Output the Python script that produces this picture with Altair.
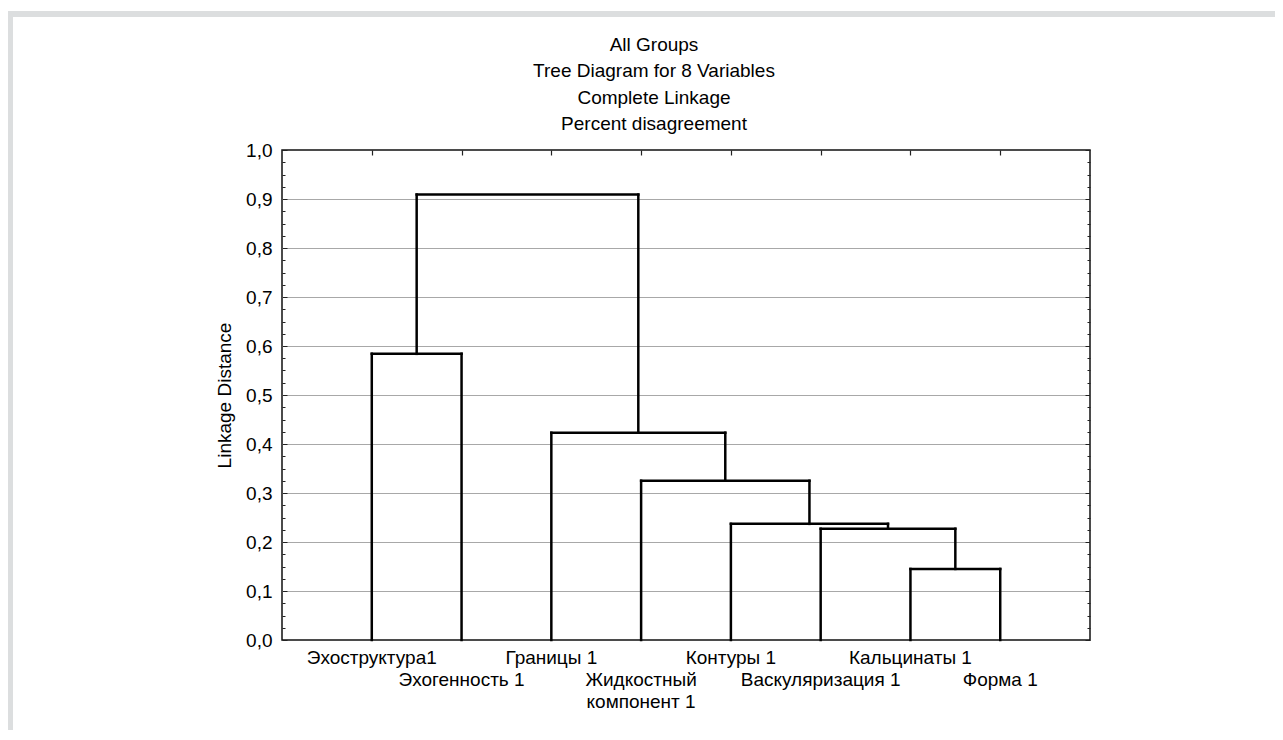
import altair as alt
import pandas as pd

FONT = "Liberation Sans"

# ---- data ----
leaf_labels = ["Эхоструктура1", "Эхогенность 1", "Границы 1", "Жидкостный\nкомпонент 1",
               "Контуры 1", "Васкуляризация 1", "Кальцинаты 1", "Форма 1"]
# merges: node ids 0..7 are leaves, 8.. are clusters in merge order
merge_a = [6, 5, 4, 3, 2, 0, 13]
merge_b = [7, 8, 9, 10, 11, 1, 12]
merge_h = [0.145, 0.227, 0.237, 0.325, 0.423, 0.584, 0.909]
y_ticks = [0.0, 0.1, 0.2, 0.3, 0.4, 0.5, 0.6, 0.7, 0.8, 0.9, 1.0]
title_lines = ["All Groups", "Tree Diagram for 8 Variables", "Complete Linkage", "Percent disagreement"]

# ---- dendrogram layout from merge structure ----
n = len(leaf_labels)
node_x = [i + 1 for i in range(n)]
node_h = [0.0] * n
segs = []
for a, b, h in zip(merge_a, merge_b, merge_h):
    xa, xb = node_x[a], node_x[b]
    segs.append(dict(x=xa, x2=xa, y=node_h[a], y2=h))
    segs.append(dict(x=xb, x2=xb, y=node_h[b], y2=h))
    segs.append(dict(x=xa, x2=xb, y=h, y2=h))
    node_x.append((xa + xb) / 2)
    node_h.append(h)
seg_df = pd.DataFrame(segs)

leaf_df = pd.DataFrame({"pos": list(range(1, n + 1)), "label": leaf_labels,
                        "row": [i % 2 for i in range(n)]})
row0 = leaf_df[leaf_df.row == 0]
row1 = leaf_df[leaf_df.row == 1]

minor_vals = [round(i * 0.025, 3) for i in range(41) if i % 4 != 0]
W, H = 808, 490

xs = alt.Scale(domain=[0, n + 1], nice=False, zero=False)
ys = alt.Scale(domain=[0, 1], nice=False, zero=False)

dend = alt.Chart(seg_df).mark_rule(color="#000", strokeWidth=2.5, strokeCap="square").encode(
    x=alt.X("x:Q", scale=xs, axis=None),
    x2="x2:Q",
    y=alt.Y("y:Q", scale=ys, axis=alt.Axis(
        orient="left", values=y_ticks, format=".1f",
        labelExpr="replace(datum.label, '.', ',')",
        ticks=False, domain=False, grid=True, gridColor="#a8a8a8", gridWidth=1,
        gridOpacity={"condition": {"test": "datum.value <= 0 || datum.value >= 1", "value": 0}, "value": 1},
        labelPadding=10, labelFontSize=19, labelFont=FONT, labelColor="#000",
        title="Linkage Distance", titleFontSize=19, titleFont=FONT, titleFontWeight="normal",
        titleColor="#000", titleX=-58, titleY=H / 2, titleAngle=270,
        titleAlign="center", titleBaseline="middle")),
    y2="y2:Q",
)


def tick_layer(orient, vals, size, x_axis=None):
    return alt.Chart(seg_df).mark_point(opacity=0).encode(
        x=alt.X("x:Q", scale=xs, axis=x_axis),
        y=alt.Y("y:Q", scale=ys, axis=alt.Axis(
            orient=orient, offset=-W, values=vals, labels=False, grid=False,
            domain=False, ticks=True, tickSize=size, tickColor="#222", tickWidth=1,
            title=None)),
    )


top_axis = alt.Axis(orient="bottom", offset=-H, values=list(range(1, n + 1)), labels=False,
                    grid=False, domain=False, ticks=True, tickSize=5, tickColor="#222",
                    tickWidth=1.2, title=None)

t1 = tick_layer("right", y_ticks, 5, x_axis=top_axis)
t2 = tick_layer("right", minor_vals, 3)
t3 = tick_layer("left", y_ticks, 5)
t4 = tick_layer("left", minor_vals, 3)

lab0 = alt.Chart(row0).mark_text(font=FONT, fontSize=19, baseline="top", dy=9,
                                 color="#000", lineBreak="\n", lineHeight=22).encode(
    x=alt.X("pos:Q", scale=xs, axis=None),
    y=alt.YDatum(0, scale=ys, axis=None),
    text="label:N",
)
lab1 = alt.Chart(row1).mark_text(font=FONT, fontSize=19, baseline="top", dy=31,
                                 color="#000", lineBreak="\n", lineHeight=22).encode(
    x=alt.X("pos:Q", scale=xs, axis=None),
    y=alt.YDatum(0, scale=ys, axis=None),
    text="label:N",
)

# decorative light-gray frame (top and left strips)
frame_df = pd.DataFrame({"k": [0]})
frame_top = alt.Chart(frame_df).mark_rect(color="#dcdedf").encode(
    x=alt.value(-274), x2=alt.value(W + 185), y=alt.value(-139), y2=alt.value(-133))
frame_left = alt.Chart(frame_df).mark_rect(color="#dcdedf").encode(
    x=alt.value(-274), x2=alt.value(-269), y=alt.value(-139), y2=alt.value(H + 90))

chart = alt.layer(frame_top, frame_left, dend, t1, t2, t3, t4, lab0, lab1).resolve_axis(
    x="independent", y="independent"
).properties(
    width=W, height=H,
    autosize="none",
    padding={"left": 274, "top": 142, "right": 185, "bottom": 90},
    title=alt.TitleParams(text=title_lines, fontSize=19, font=FONT, fontWeight="normal",
                          color="#000", anchor="middle", frame="group", dx=-32,
                          offset=14, dy=137, lineHeight=26.5),
).configure_view(stroke="#111", strokeWidth=1.5)

chart.save("out.html", embed_options={"renderer": "svg", "actions": False})
